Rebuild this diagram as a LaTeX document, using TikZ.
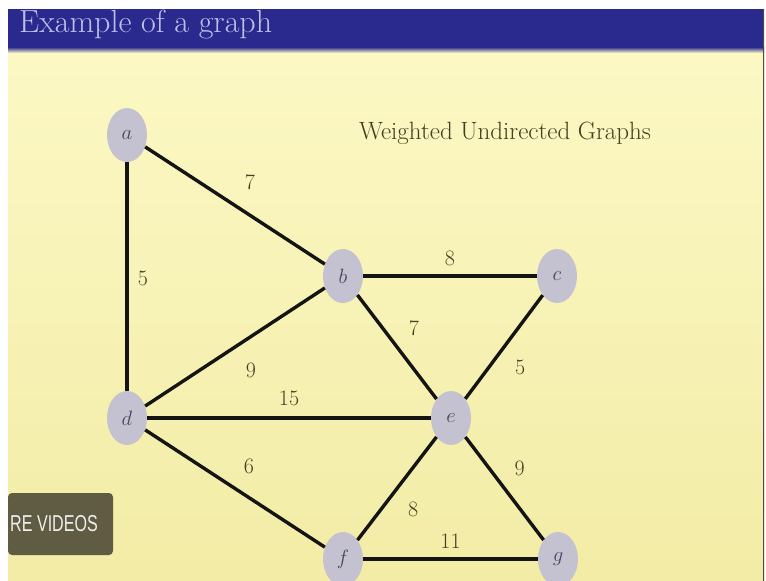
\documentclass[tikz,border=0pt]{standalone}
\usepackage{fontspec}
\usetikzlibrary{shapes.geometric,positioning}
\newfontfamily\buttonfont{Liberation Sans}
\definecolor{slidetop}{RGB}{252,248,196}
\definecolor{slidebottom}{RGB}{242,236,166}
\definecolor{barblue}{RGB}{42,42,142}
\definecolor{barink}{RGB}{190,190,232}
\definecolor{vertexgray}{RGB}{196,194,208}
\definecolor{vertexink}{RGB}{70,70,95}
\definecolor{weightink}{RGB}{66,64,34}
\definecolor{buttongray}{RGB}{96,92,68}
\tikzset{
  vertex/.style={ellipse, fill=vertexgray, minimum width=40pt, minimum height=54pt,
    inner sep=0pt, text=vertexink, font=\fontsize{22}{26}\selectfont},
  wedge/.style={line width=3.4pt, black!92},
  weight/.style={text=weightink, font=\fontsize{22}{26}\selectfont, inner sep=0pt},
}
\begin{document}
\begin{tikzpicture}[x=1pt,y=-1pt]
  \useasboundingbox (0,0) rectangle (766,581);
  \clip (0,0) rectangle (766,581);
  \fill[white] (0,0) rectangle (766,581);
  \begin{scope}
    \clip (8,9) rectangle (764,581);
    % slide background
    \shade[top color=slidetop, bottom color=slidebottom] (8,49) rectangle (764,581);
    \fill[barblue] (8,9) rectangle (764,47);
    \shade[top color=barblue, bottom color=slidetop] (8,47) rectangle (764,53);
    \node[anchor=base west, inner sep=0pt, text=barink, font=\fontsize{32}{38}\selectfont] (frametitle) at (19,32) {Example of a graph};
    \draw[black!70, line width=1.2pt] (764,9) -- (764,581);
  \end{scope}
  % caption
  \node[text=weightink, font=\fontsize{25}{30}\selectfont] (caption) at (505,133) {Weighted Undirected Graphs};
  % vertices
  \node[vertex] (a) at (127,135) {$a$};
  \node[vertex] (b) at (343,276) {$b$};
  \node[vertex] (c) at (557,276) {$c$};
  \node[vertex] (d) at (127,418) {$d$};
  \node[vertex] (e) at (451,418) {$e$};
  \node[vertex] (f) at (343,559) {$f$};
  \node[vertex] (g) at (558,559) {$g$};
  % weighted edges
  \draw[wedge] (a) -- node[weight, pos=0.5, shift={(15,-23)}] {7} (b);
  \draw[wedge] (a) -- node[weight, pos=0.51, shift={(16,0)}] {5} (d);
  \draw[wedge] (b) -- node[weight, pos=0.5, shift={(0,-18)}] {8} (c);
  \draw[wedge] (b) -- node[weight, pos=0.46, shift={(20,-15)}] {7} (e);
  \draw[wedge] (c) -- node[weight, pos=0.55, shift={(20,15)}] {5} (e);
  \draw[wedge] (d) -- node[weight, pos=0.5, shift={(16,23)}] {9} (b);
  \draw[wedge] (d) -- node[weight, pos=0.5, shift={(0,-20)}] {15} (e);
  \draw[wedge] (d) -- node[weight, pos=0.5, shift={(14,-22)}] {6} (f);
  \draw[wedge] (f) -- node[weight, pos=0.45, shift={(20,16)}] {8} (e);
  \draw[wedge] (e) -- node[weight, pos=0.45, shift={(19,-15)}] {9} (g);
  \draw[wedge] (f) -- node[weight, pos=0.5, shift={(0,-18)}] {11} (g);
  % overlay button
  \fill[buttongray, rounded corners=4pt] (8,493) rectangle (113,555);
  \node[anchor=west, inner sep=0pt, text=white!90!buttongray, font=\buttonfont\fontsize{23}{26}\selectfont] (button) at (10,524) {\scalebox{0.7}[1]{RE VIDEOS}};
\end{tikzpicture}
\end{document}
